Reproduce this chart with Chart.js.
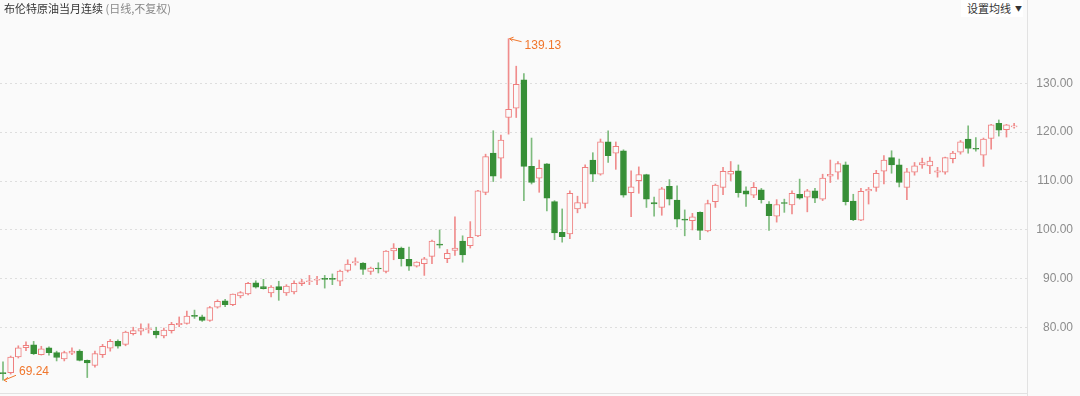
<!DOCTYPE html>
<html>
<head>
<meta charset="utf-8">
<script src="https://cdn.jsdelivr.net/npm/chart.js@4.4.0/dist/chart.umd.min.js"></script>
<style>
  html, body { margin: 0; padding: 0; background: #fafafa; }
  #wrap { position: relative; width: 1080px; height: 396px; }
  #title { position: absolute; left: 4px; top: 0; line-height: 17px; font-size: 11px;
           font-family: "Noto Sans CJK SC", sans-serif; color: #333; white-space: nowrap; }
  #title span { color: #888; }
  #maBtn { position: absolute; left: 961px; top: 0; width: 62px; height: 17px; line-height: 17px;
           font-size: 11px; font-family: "Noto Sans CJK SC", sans-serif; color: #333;
           background: #fff; padding-left: 6px; box-sizing: border-box; white-space: nowrap; }
  #maBtn i { font-style: normal; font-size: 7px; margin-left: 4px; vertical-align: 2px; }
</style>
</head>
<body>
<div id="wrap">
  <canvas id="kline"></canvas>
  <div id="title">布伦特原油当月连续 <span>(日线,不复权)</span></div>
  <div id="maBtn">设置均线<i>▼</i></div>
</div>
<script>
// daily candles, oldest first
var days = [];
var opens  = [70.7,70.8,74.0,75.9,76.5,74.5,75.9,74.9,73.6,74.8,75.2,73.3,72.3,74.5,75.8,77.2,76.6,78.8,79.3,79.6,
              79.3,78.3,79.4,80.6,80.9,82.5,82.2,81.5,84.2,85.5,84.7,86.5,86.9,89.2,88.4,87.1,88.4,87.1,87.3,89.0,
              89.4,89.7,90.1,90.0,89.5,91.7,93.3,93.2,91.5,92.1,91.5,95.7,96.3,94.0,92.6,93.1,94.6,97.1,94.1,95.8,
              97.7,96.8,98.8,107.7,115.7,114.7,123.0,124.9,130.7,113.0,110.6,113.5,105.8,99.5,99.2,104.3,105.4,114.3,111.4,118.0,
              115.7,116.2,107.6,110.1,111.3,105.6,104.6,108.9,106.1,102.2,101.9,103.6,99.8,105.8,108.7,111.4,112.1,108.0,107.1,108.2,
              105.3,102.8,105.6,105.1,107.3,106.7,108.0,106.3,111.0,111.8,113.3,105.9,102.0,108.0,108.7,112.0,114.8,113.3,108.7,111.8,
              113.3,113.1,111.8,111.8,114.6,115.9,118.6,116.6,115.3,118.7,121.8,120.5,121.1];
var highs  = [73.0,74.2,76.3,77.1,77.2,76.2,76.1,75.2,75.2,75.9,75.5,73.4,75.2,76.6,77.6,77.5,79.3,80.1,80.8,80.8,
              80.1,79.9,81.1,82.2,83.4,83.6,82.6,84.35,85.7,85.8,86.9,87.4,89.3,89.6,89.9,88.6,89.5,88.8,89.6,89.9,
              90.7,90.5,90.7,91.0,91.8,93.9,94.3,93.3,92.4,93.3,95.8,97.2,96.5,96.5,93.5,94.4,97.9,100.0,96.0,102.7,
              98.8,101.7,108.1,115.5,120.3,119.4,139.13,133.5,132.0,118.8,114.3,113.6,106.0,104.3,108.0,106.9,113.3,115.8,118.6,120.3,
              118.0,116.4,112.1,112.9,111.4,106.7,108.7,110.3,109.0,104.1,103.4,103.7,106.1,109.4,112.8,114.0,113.3,108.8,109.7,108.5,
              105.8,106.2,106.3,108.0,110.4,108.3,108.5,111.4,114.3,114.0,113.9,107.3,108.5,108.7,112.2,115.2,116.2,114.5,112.6,113.8,
              114.7,114.9,112.8,114.9,116.1,118.3,121.3,118.9,118.8,121.6,122.5,121.6,121.8];
var lows   = [69.24,70.5,73.8,75.3,74.5,74.4,74.4,73.2,73.2,74.5,73.2,69.8,71.9,73.9,75.2,75.8,76.3,78.5,78.5,78.9,
              77.9,77.9,78.9,80.2,80.7,81.9,81.3,81.3,84.0,84.3,84.5,86.1,86.7,88.1,87.9,86.3,85.6,86.6,86.9,88.6,
              88.8,88.8,88.1,88.8,88.6,91.4,92.8,90.9,90.9,91.2,91.2,93.9,92.6,91.7,92.4,90.7,93.1,96.3,93.3,94.8,
              93.4,96.3,98.6,107.2,109.9,110.6,119.6,123.0,106.0,109.4,107.7,103.9,98.0,97.5,98.2,103.5,104.5,109.9,111.2,113.8,
              112.4,106.7,102.7,107.5,104.6,102.8,103.0,105.1,100.6,98.8,100.0,98.0,99.6,104.6,107.2,110.1,106.7,104.8,106.6,105.5,
              99.9,101.6,103.6,103.3,106.3,103.7,105.6,106.0,109.7,110.4,105.1,101.9,101.9,105.3,107.9,109.4,111.6,108.8,106.2,111.2,
              112.6,111.5,110.8,111.4,113.7,115.5,115.7,116.1,113.0,116.5,119.2,119.0,120.8];
var closes = [70.6,74.0,75.9,76.4,74.7,75.7,74.9,73.9,74.9,75.2,73.3,72.8,74.7,76.2,77.2,76.2,79.1,79.4,79.8,79.8,
              78.5,79.5,80.7,80.9,82.4,82.3,81.5,84.1,85.4,84.7,86.9,87.2,89.1,88.3,88.0,88.3,87.8,88.5,89.1,89.4,
              89.5,89.9,89.9,89.9,91.6,93.0,93.5,91.9,92.2,92.0,95.7,96.3,94.1,92.6,93.4,94.1,97.7,96.9,95.2,96.3,
              94.9,98.5,108.0,115.0,111.0,118.4,124.7,129.8,113.0,109.7,112.6,106.5,99.4,98.6,107.5,105.6,112.8,111.4,118.0,115.2,
              117.1,107.1,108.8,111.3,106.3,105.3,108.4,106.3,102.2,102.0,102.7,99.9,105.4,109.2,112.0,112.0,107.6,107.3,108.7,106.2,
              102.9,105.2,105.4,107.5,106.5,108.0,106.5,110.6,111.4,113.6,105.8,102.1,107.9,108.3,111.6,114.3,113.3,109.7,111.9,113.1,
              113.8,114.1,112.1,114.8,115.7,118.0,116.7,116.5,118.6,121.5,120.4,121.5,121.2];
for (var d = 0; d < opens.length; d++) days.push(d);

var yTicks = [80, 90, 100, 110, 120, 130];
var yMin = 66.64, yMax = 142.95;

var RED = '#ef7f7f', GREEN = '#378f37', BG = '#fafafa';
var RED_WICK = '#f08c8c', GREEN_WICK = '#7dbb7d';

var isUp = function (i) { return closes[i] >= opens[i]; };

var bodyData = days.map(function (d, i) {
    return { x: d, y: [Math.min(opens[i], closes[i]), Math.max(opens[i], closes[i])] };
});
var wickData = days.map(function (d, i) {
    return { x: d, y: [lows[i], highs[i]] };
});

// high / low markers + full height right border line
var extremes = {
    id: 'extremes',
    afterDraw: function (chart) {
        var ctx = chart.ctx, xs = chart.scales.x, ys = chart.scales.y;
        var area = chart.chartArea;
        ctx.save();
        ctx.strokeStyle = '#e2e2e2';
        ctx.lineWidth = 1;
        ctx.beginPath();
        ctx.moveTo(Math.round(area.right) + 0.5, 0);
        ctx.lineTo(Math.round(area.right) + 0.5, chart.height);
        ctx.stroke();

        var hi = Math.max.apply(null, highs), hiIdx = highs.indexOf(hi);
        var lo = Math.min.apply(null, lows), loIdx = lows.indexOf(lo);
        ctx.strokeStyle = '#f0762c';
        ctx.fillStyle = '#f0762c';
        ctx.font = '12px "Liberation Sans", Arial, sans-serif';
        ctx.textBaseline = 'middle';

        var px = xs.getPixelForValue(days[hiIdx]) + 1, py = ys.getPixelForValue(hi);
        ctx.beginPath();
        ctx.moveTo(px, py); ctx.lineTo(px + 12, py + 3);
        ctx.moveTo(px, py); ctx.lineTo(px + 4, py - 1.5);
        ctx.moveTo(px, py); ctx.lineTo(px + 3, py + 2.5);
        ctx.stroke();
        ctx.fillText(hi.toFixed(2), px + 15, py + 7);

        px = xs.getPixelForValue(days[loIdx]) + 1; py = ys.getPixelForValue(lo);
        ctx.beginPath();
        ctx.moveTo(px, py); ctx.lineTo(px + 12, py - 5);
        ctx.moveTo(px, py); ctx.lineTo(px + 4, py - 3);
        ctx.moveTo(px, py); ctx.lineTo(px + 3, py + 1.5);
        ctx.stroke();
        ctx.fillText(lo.toFixed(2), px + 15, py - 9);
        ctx.restore();
    }
};

new Chart(document.getElementById('kline'), {
    type: 'bar',
    data: {
        datasets: [
            {
                label: 'body',
                data: bodyData,
                backgroundColor: days.map(function (d, i) { return isUp(i) ? BG : GREEN; }),
                borderColor: days.map(function (d, i) { return isUp(i) ? RED : GREEN; }),
                borderWidth: 1,
                borderSkipped: false,
                barThickness: 6,
                minBarLength: 1,
                grouped: false
            },
            {
                label: 'wick',
                data: wickData,
                backgroundColor: days.map(function (d, i) { return isUp(i) ? RED_WICK : GREEN_WICK; }),
                borderWidth: 0,
                barThickness: 1,
                grouped: false
            }
        ]
    },
    options: {
        responsive: true,
        maintainAspectRatio: false,
        animation: false,
        layout: { padding: { top: 20, right: 7, bottom: 3, left: 0 } },
        plugins: { legend: { display: false }, tooltip: { enabled: false } },
        scales: {
            x: {
                type: 'linear',
                offset: false,
                min: -0.392,
                max: 133.68,
                ticks: { display: false },
                grid: { display: false, drawTicks: false },
                border: { display: true, color: '#e2e2e2' },
                afterFit: function (s) { s.height = 0; s.paddingLeft = 0; s.paddingRight = 0; }
            },
            y: {
                position: 'right',
                min: yMin,
                max: yMax,
                afterBuildTicks: function (s) { s.ticks = yTicks.map(function (v) { return { value: v }; }); },
                afterFit: function (s) { s.width = 46; s.paddingTop = 0; s.paddingBottom = 0; },
                ticks: {
                    color: '#8c8c8c',
                    font: { size: 12, family: '"Liberation Sans", Arial, sans-serif' },
                    crossAlign: 'far',
                    padding: 0,
                    callback: function (v) { return Number(v).toFixed(2); }
                },
                grid: { color: '#dedede', drawTicks: false },
                border: { display: false, dash: [2, 3] }
            }
        }
    },
    plugins: [extremes]
});
</script>
</body>
</html>
